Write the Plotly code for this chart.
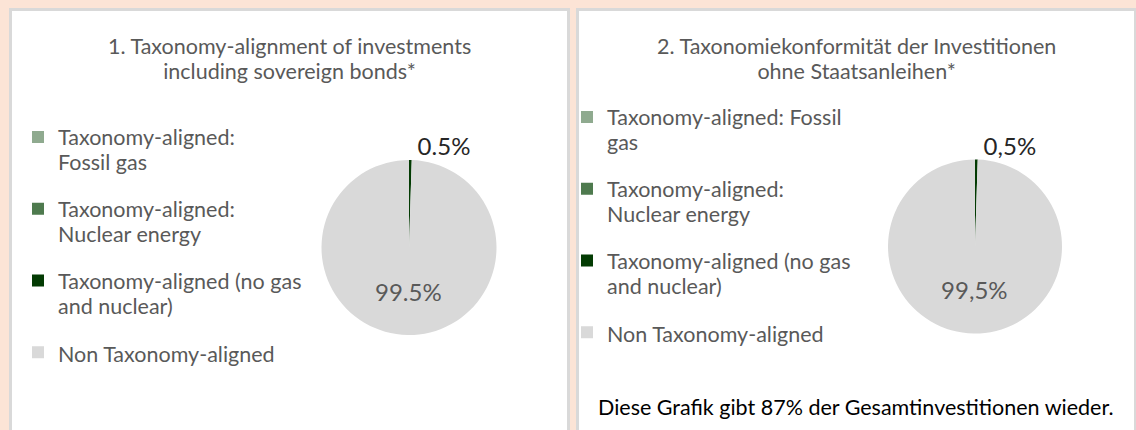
import plotly.graph_objects as go

# ---------------- data ----------------
categories = [
    "Taxonomy-aligned: Fossil gas",
    "Taxonomy-aligned: Nuclear energy",
    "Taxonomy-aligned (no gas and nuclear)",
    "Non Taxonomy-aligned",
]
legend_lines_1 = [
    ["Taxonomy-aligned:", "Fossil gas"],
    ["Taxonomy-aligned:", "Nuclear energy"],
    ["Taxonomy-aligned (no gas", "and nuclear)"],
    ["Non Taxonomy-aligned"],
]
legend_lines_2 = [
    ["Taxonomy-aligned: Fossil", "gas"],
    ["Taxonomy-aligned:", "Nuclear energy"],
    ["Taxonomy-aligned (no gas", "and nuclear)"],
    ["Non Taxonomy-aligned"],
]
values_incl_sovereign = [0.0, 0.0, 0.5, 99.5]
values_excl_sovereign = [0.0, 0.0, 0.5, 99.5]
colors = ["#8FAA8F", "#4E7A4E", "#033B03", "#D9D9D9"]

title_1 = ["1. Taxonomy-alignment of investments", "including sovereign bonds*"]
title_2 = ["2. Taxonomiekonformität der Investitionen", "ohne Staatsanleihen*"]
footnote = "Diese Grafik gibt 87% der Gesamtinvestitionen wieder."

# ---------------- layout helpers ----------------
W, H = 1136, 430
FONT = "Lato, 'Open Sans', sans-serif"
GREY_TXT = "#595959"
VIS_SIZE = 21.5        # visible text size
LH = 25 / 4            # internal legend line height (px)
LEG_FONT = LH / 1.3
TITLE_FONT = 25 / 1.3  # gives 25px line spacing


def px(x):
    return x / W


def py(y):
    return 1 - y / H


def legend_label(lines, style):
    vis = [f'<span style="{style}">{t}</span>' for t in lines]
    if len(lines) == 1:
        parts = ["", vis[0]]
    else:
        parts = ["", vis[0], "", "", "", vis[1], "", "", "", "", ""]
    return "<br>".join(parts)


def title_text(lines):
    return "<br>".join(f'<span style="font-size:{VIS_SIZE}px">{t}</span>' for t in lines)


def pie_text(values, dec):
    return [f"{v:.1f}%".replace(".", dec) for v in values]


def text_pos(values):
    return ["none" if v == 0 else ("outside" if v < 5 else "inside") for v in values]


fig = go.Figure()

pies = [
    (values_incl_sovereign, legend_lines_1, ".", (409, 247.5, 87.5), "legend",
     f"font-size:{VIS_SIZE}px"),
    (values_excl_sovereign, legend_lines_2, ",", (975, 246.5, 87), "legend2",
     f"font-size:{VIS_SIZE}px;color:{GREY_TXT}"),
]
for vals, leg_lines, dec, (cx, cy, r), leg, style in pies:
    fig.add_trace(
        go.Pie(
            labels=[legend_label(l, style) for l in leg_lines],
            values=vals,
            text=pie_text(vals, dec),
            texttemplate="%{text}",
            textposition=text_pos(vals),
            insidetextorientation="horizontal",
            marker=dict(colors=colors, line=dict(width=0)),
            sort=False,
            direction="clockwise",
            rotation=0,
            outsidetextfont=dict(family=FONT, size=24, color="#262626"),
            insidetextfont=dict(family=FONT, size=24, color=GREY_TXT),
            domain=dict(x=[px(cx - r), px(cx + r)], y=[py(cy + r), py(cy - r)]),
            legend=leg,
            hoverinfo="label+percent",
        )
    )

# panels
shapes = []
for x0, x1 in [(10.5, 568.5), (577.5, 1135.5)]:
    shapes.append(
        dict(
            type="rect", xref="paper", yref="paper",
            x0=px(x0), x1=px(x1), y0=py(440), y1=py(9.5),
            fillcolor="white", line=dict(color="#D9D9D9", width=3), layer="below",
        )
    )

annotations = [
    dict(text=title_text(title_1), x=px(289.5), y=py(58), xref="paper", yref="paper",
         xanchor="center", yanchor="middle", showarrow=False,
         font=dict(family=FONT, size=TITLE_FONT, color=GREY_TXT)),
    dict(text=title_text(title_2), x=px(856), y=py(58), xref="paper", yref="paper",
         xanchor="center", yanchor="middle", showarrow=False,
         font=dict(family=FONT, size=TITLE_FONT, color=GREY_TXT)),
    dict(text=footnote, x=px(856), y=py(407), xref="paper", yref="paper",
         xanchor="center", yanchor="middle", showarrow=False,
         font=dict(family=FONT, size=VIS_SIZE, color="#000000")),
]

leg_common = dict(
    xanchor="left", yanchor="top", valign="top", traceorder="normal",
    bgcolor="rgba(0,0,0,0)", borderwidth=0,
    font=dict(family=FONT, size=LEG_FONT, color=GREY_TXT),
)

fig.update_layout(
    width=W, height=H, autosize=False,
    margin=dict(l=0, r=0, t=0, b=0),
    paper_bgcolor="#FCE4D6",
    plot_bgcolor="#FCE4D6",
    showlegend=True,
    legend=dict(x=px(18), y=py(127.25), **leg_common),
    legend2=dict(x=px(567), y=py(107.25), **leg_common),
    shapes=shapes,
    annotations=annotations,
)

fig.write_html(
    "out.html",
    config={"displayModeBar": False},
    post_script="document.body.style.margin='0px';document.body.style.background='#FCE4D6';",
)
